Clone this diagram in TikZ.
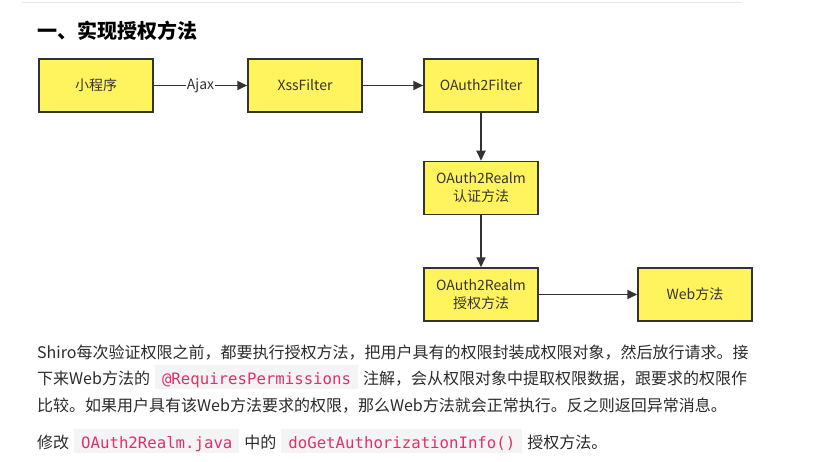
\documentclass[tikz,border=0pt]{standalone}
\usepackage{fontspec}
\setmainfont{Noto Sans CJK SC}
\newfontfamily\codefont{DejaVu Sans Mono}
\usetikzlibrary{arrows.meta}
\definecolor{boxyellow}{HTML}{FFF45E}
\definecolor{boxline}{HTML}{333333}
\definecolor{codered}{HTML}{E0306A}
\definecolor{codebg}{HTML}{F4F4F4}
\definecolor{rulegray}{HTML}{E6E6E6}
\definecolor{bodygray}{HTML}{2B2B2B}
\newcommand{\codebit}[1]{\hspace{5pt}{\setlength{\fboxsep}{0pt}\colorbox{codebg}{\rule[-5pt]{0pt}{24pt}\hspace{7pt}\textcolor{codered}{\codefont\fontsize{15.7}{18}\selectfont #1}\hspace{7pt}}}\hspace{5pt}}
\begin{document}
\begin{tikzpicture}[x=1pt,y=-1pt,
    flowbox/.style={draw=boxline, line width=1.5pt, fill=boxyellow, minimum width=114pt, minimum height=53pt, inner sep=2pt, align=center, font=\fontsize{14}{18}\selectfont, text=boxline},
    flowarrow/.style={draw=boxline, line width=1.8pt, -{Triangle[length=10pt,width=9pt]}},
    bodytext/.style={anchor=base west, inner sep=0pt, font=\fontsize{16}{20}\selectfont, text=bodygray}]
        \fill[white] (0,0) rectangle (821,462);
        \useasboundingbox (0,0) rectangle (821,462);
        \draw[rulegray, line width=1pt] (22,3) -- (741,3);

        \node[anchor=base west, inner sep=0pt, font=\fontsize{20}{24}\selectfont\bfseries, text=black] (title) at (37,39) {一、实现授权方法};

        \node[flowbox] (app) at (96,85.5) {小程序};
        \node[flowbox] (xss) at (305,85.5) {XssFilter};
        \node[flowbox] (oafilter) at (481,85.5) {OAuth2Filter};
        \node[flowbox] (authc) at (481,188) {OAuth2Realm\\认证方法};
        \node[flowbox] (authz) at (481,294.5) {OAuth2Realm\\授权方法};
        \node[flowbox] (web) at (695,294.5) {Web方法};

        \draw[flowarrow] (app) -- node[fill=white, inner sep=1pt, text=boxline, font=\fontsize{14}{18}\selectfont] (ajax) {Ajax} (xss);
        \draw[flowarrow] (xss) -- (oafilter);
        \draw[flowarrow] (oafilter) -- (authc);
        \draw[flowarrow] (authc) -- (authz);
        \draw[flowarrow] (authz) -- (web);

        \node[bodytext] (line1) at (37,358) {Shiro每次验证权限之前，都要执行授权方法，把用户具有的权限封装成权限对象，然后放行请求。接};
        \node[bodytext] (line2) at (37,384) {下来Web方法的\codebit{@RequiresPermissions}注解，会从权限对象中提取权限数据，跟要求的权限作};
        \node[bodytext] (line3) at (37,411) {比较。如果用户具有该Web方法要求的权限，那么Web方法就会正常执行。反之则返回异常消息。};
        \node[bodytext] (line4) at (37,448) {修改\codebit{OAuth2Realm.java}中的\codebit{doGetAuthorizationInfo()}授权方法。};
\end{tikzpicture}
\end{document}
